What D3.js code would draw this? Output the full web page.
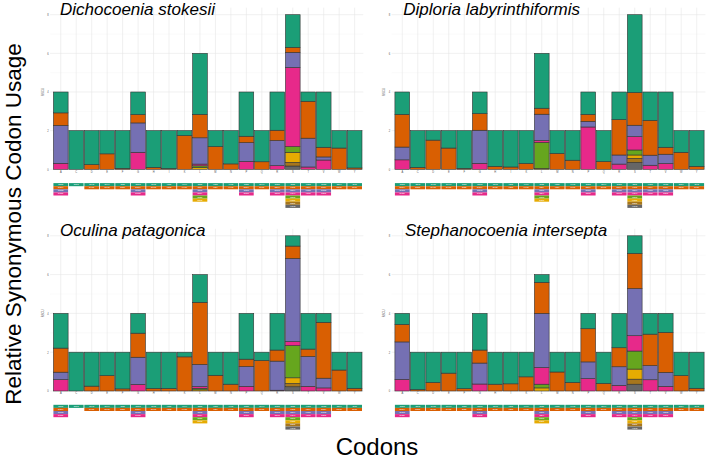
<!DOCTYPE html>
<html>
<head>
<meta charset="utf-8">
<script src="https://cdn.jsdelivr.net/npm/d3@7"></script>
<style>
  html, body { margin: 0; padding: 0; background: #fff; }
  svg { display: block; font-family: "Liberation Sans", Arial, sans-serif; }
</style>
</head>
<body>
<svg id="chart" width="709" height="464"></svg>
<script>
// ---------------- DATA ----------------
const aminoAcids = ["A","C","D","E","F","G","H","I","K","L","M","N","P","Q","R","S","T","V","W","Y"];

const codons = [
  ["GCT","GCA","GCC","GCG"],
  ["TGT","TGC"],
  ["GAT","GAC"],
  ["GAA","GAG"],
  ["TTT","TTC"],
  ["GGT","GGA","GGG","GGC"],
  ["CAT","CAC"],
  ["ATT","ATC"],
  ["AAA","AAG"],
  ["CTT","TTA","TTG","CTA","CTG","CTC"],
  ["ATG","ATA"],
  ["AAT","AAC"],
  ["CCT","CCA","CCG","CCC"],
  ["CAA","CAG"],
  ["CGT","CGA","CGG","CGC"],
  ["TCT","AGT","TCA","AGA","TCG","AGG","TCC","AGC"],
  ["ACT","ACA","ACG","ACC"],
  ["GTT","GTA","GTG","GTC"],
  ["TGA","TGG"],
  ["TAT","TAC"]
];

const speciesNames = ["Dichocoenia stokesii","Diploria labyrinthiformis","Oculina patagonica","Stephanocoenia intersepta"];

const rscuDichocoenia = [
  [1.08,0.65,1.96,0.31],[2.00,0],[1.76,0.24],[1.20,0.80],[1.95,0.05],
  [1.17,0.43,1.52,0.88],[1.90,0.10],[1.96,0.04],[0.26,1.74],
  [3.16,1.21,1.36,0.09,0.09,0.09],[0.83,1.17],[1.72,0.28],
  [2.29,0.33,0.97,0.41],[1.61,0.39],[1.98,0.53,1.30,0.19],
  [1.69,0.26,0.78,4.10,0.29,0.52,0.19,0.17],
  [0.48,1.91,1.49,0.12],[2.86,0.50,0.16,0.48],[0.90,1.10],[1.93,0.07]
];

const rscuDiploria = [
  [1.16,1.69,0.66,0.49],[1.90,0.10],[0.49,1.51],[0.90,1.10],[1.95,0.05],
  [1.12,0.86,1.71,0.31],[1.85,0.15],[1.88,0.12],[1.70,0.30],
  [2.84,0.31,1.36,0.10,1.34,0.05],[1.18,0.82],[1.53,0.47],
  [1.16,0.36,0.29,2.19],[1.60,0.40],[1.43,1.83,0.47,0.27],
  [4.03,1.69,0.59,0.69,0.26,0.17,0.21,0.36],
  [1.47,1.80,0.52,0.21],[2.86,0.36,0.48,0.30],[1.12,0.88],[1.85,0.15]
];

const rscuOculina = [
  [1.79,1.24,0.38,0.59],[2.00,0],[1.75,0.25],[1.21,0.79],[1.89,0.11],
  [1.02,1.24,1.40,0.34],[1.87,0.13],[1.87,0.13],[0.24,1.76],
  [1.43,3.20,1.14,0.09,0.08,0.06],[1.19,0.81],[1.65,0.35],
  [2.36,0.38,1.02,0.24],[0.43,1.57],[1.89,0.57,1.50,0.04],
  [0.53,0.64,4.28,0.21,1.66,0.29,0.17,0.22],
  [1.84,0.38,1.54,0.24],[0.46,2.88,0.50,0.16],[0.92,1.08],[1.86,0.14]
];

const rscuStephanocoenia = [
  [0.57,0.90,1.93,0.60],[1.93,0.07],[1.56,0.44],[1.08,0.92],[1.88,0.12],
  [1.89,0.67,1.08,0.36],[1.65,0.35],[1.63,0.37],[1.27,0.73],
  [0.40,1.60,2.79,0.86,0.19,0.16],[1.02,0.98],[1.56,0.44],
  [0.79,1.71,0.86,0.64],[1.61,0.39],[1.77,0.98,0.96,0.29],
  [0.91,1.81,2.43,0.79,0.93,0.52,0.26,0.35],
  [1.07,1.62,0.73,0.58],[0.98,2.06,0.72,0.24],[1.21,0.79],[1.86,0.14]
];

const yTicks = [0,2,4,6,8];
const yTitle = "RSCU";
const xTitle = "Codons";
const bigYTitle = "Relative Synonymous Codon Usage";

// ---------------- LAYOUT ----------------
const speciesData = [rscuDichocoenia, rscuDiploria, rscuOculina, rscuStephanocoenia];
const panels = [
  {x0: 53.1, x1: 362.3, yb: 169.3, yt: 14.7, tx: 60, ty: 14.5},
  {x0: 394.6, x1: 704.4, yb: 169.3, yt: 14.7, tx: 403.3, ty: 14.5},
  {x0: 53.1, x1: 362.3, yb: 391, yt: 235.8, tx: 60, ty: 235.5},
  {x0: 394.6, x1: 704.4, yb: 391, yt: 235.8, tx: 405, ty: 235.5}
];
const colors = d3.schemeDark2;
const rowH = 3.1;

const svg = d3.select("#chart");

panels.forEach((p, pi) => {
  const data = speciesData[pi];
  const g = svg.append("g");
  const x = d3.scaleBand().domain(aminoAcids).range([p.x0, p.x1]).paddingInner(0.05).paddingOuter(0.02);
  const y = d3.scaleLinear().domain([0, 8]).range([p.yb, p.yt]);

  // gridlines
  const grid = g.append("g");
  const minor = [1,3,5,7];
  grid.selectAll("line.minor").data(minor).join("line")
    .attr("x1", p.x0 - 3).attr("x2", p.x1 + 1)
    .attr("y1", d => y(d)).attr("y2", d => y(d))
    .attr("stroke", "#f3f3f3").attr("stroke-width", 0.4);
  grid.selectAll("line.major").data(yTicks).join("line")
    .attr("x1", p.x0 - 3).attr("x2", p.x1 + 1)
    .attr("y1", d => y(d)).attr("y2", d => y(d))
    .attr("stroke", "#e6e6e6").attr("stroke-width", 0.6);
  grid.selectAll("line.v").data(aminoAcids).join("line")
    .attr("x1", d => x(d) + x.bandwidth()/2).attr("x2", d => x(d) + x.bandwidth()/2)
    .attr("y1", y(8) - 7).attr("y2", y(0) + 1)
    .attr("stroke", "#e6e6e6").attr("stroke-width", 0.6);

  // stacked bars: first codon on top
  aminoAcids.forEach((aa, ai) => {
    const vals = data[ai];
    let cum = 0;
    const segs = [];
    for (let ci = vals.length - 1; ci >= 0; ci--) {
      const v = vals[ci];
      if (v > 0) segs.push({ci, y0: cum, y1: cum + v});
      cum += v;
    }
    g.append("g").selectAll("rect").data(segs).join("rect")
      .attr("x", x(aa)).attr("width", x.bandwidth())
      .attr("y", d => y(d.y1)).attr("height", d => y(d.y0) - y(d.y1))
      .attr("fill", d => colors[d.ci])
      .attr("stroke", "#333").attr("stroke-width", 0.6);

    // codon label boxes
    const labs = codons[ai].map((c, ci) => ({c, ci, v: vals[ci]})).filter(d => d.v > 0);
    const lg = g.append("g");
    labs.forEach((d) => {
      const ry = y(0) + 13.8 + d.ci * rowH;
      lg.append("rect").attr("x", x(aa)).attr("width", x.bandwidth())
        .attr("y", ry).attr("height", rowH)
        .attr("fill", colors[d.ci]);
      lg.append("text").attr("x", x(aa) + x.bandwidth()/2).attr("y", ry + rowH/2)
        .attr("text-anchor", "middle").attr("dominant-baseline", "central")
        .attr("font-size", 2.4).attr("font-weight", "bold").attr("fill", "#fff")
        .text(d.c);
    });
  });

  // axes
  const ya = g.append("g").attr("transform", `translate(${p.x0 - 3},0)`)
    .call(d3.axisLeft(y).tickValues(yTicks).tickSize(0).tickPadding(1.5));
  ya.select(".domain").remove();
  ya.selectAll("text").attr("font-size", 2.6).attr("fill", "#555");

  const xa = g.append("g").attr("transform", `translate(0,${y(0) + 1.5})`)
    .call(d3.axisBottom(x).tickSize(0).tickPadding(0));
  xa.select(".domain").remove();
  xa.selectAll("text").attr("font-size", 2.6).attr("fill", "#555");

  g.append("text")
    .attr("transform", `translate(${p.x0 - 9.5},${(y(0)+y(8))/2}) rotate(-90)`)
    .attr("text-anchor", "middle").attr("font-size", 2.8).attr("fill", "#555")
    .text(yTitle);

  // title
  g.append("text").attr("x", p.tx).attr("y", p.ty)
    .attr("font-size", 17).attr("font-style", "italic").attr("fill", "#000")
    .text(speciesNames[pi]);
});

// big titles
svg.append("text")
  .attr("transform", "translate(21,224) rotate(-90)")
  .attr("text-anchor", "middle").attr("font-size", 22.5).attr("fill", "#000")
  .text(bigYTitle);

svg.append("text")
  .attr("x", 377).attr("y", 455)
  .attr("text-anchor", "middle").attr("font-size", 24).attr("fill", "#000")
  .text(xTitle);
</script>
</body>
</html>
